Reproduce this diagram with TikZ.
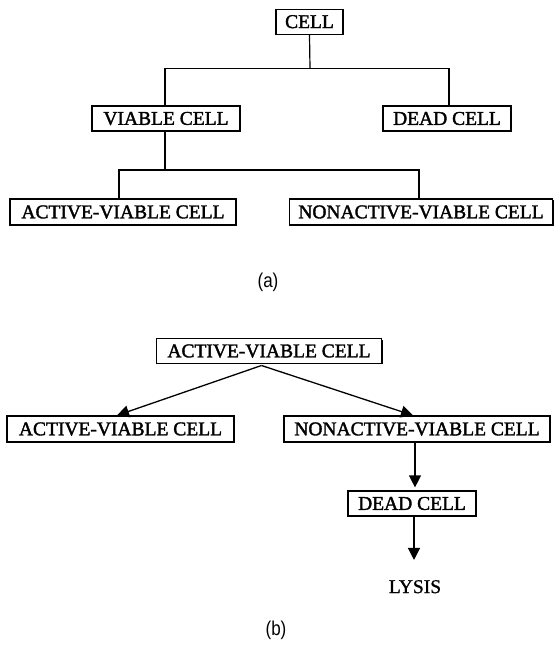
\documentclass[tikz,border=0pt]{standalone}
\usepackage{fontspec}
\setmainfont{Liberation Serif}
\newfontfamily\boxfont[FakeBold=1.8]{Liberation Serif}
\newfontfamily\plainfont[FakeBold=1.0]{Liberation Serif}
\newfontfamily\labfont[FakeStretch=0.85]{Liberation Sans}
\usetikzlibrary{arrows.meta,shadows}
\tikzset{
  cellbox/.style={draw, fill=white, line width=1.2pt, inner sep=0pt,
    minimum height=25pt, font=\boxfont\fontsize{19.5}{20}\selectfont,
    general shadow={fill=black, shadow xshift=1pt, shadow yshift=-1pt}},
  link/.style={line width=1.2pt},
  arr/.style={line width=1.3pt, -{Triangle[width=12pt,length=12pt]}},
  caption/.style={font=\labfont\fontsize{20}{22}\selectfont, inner sep=0pt},
  plain/.style={font=\plainfont\fontsize{19.5}{20}\selectfont, inner sep=0pt}
}
\begin{document}
\begin{tikzpicture}[x=1pt,y=-1pt]
\useasboundingbox (0,0) rectangle (554,646);
% ---------- (a)
\node[cellbox, minimum width=67pt] (cell) at (309.5,21.7) {CELL};
\node[cellbox, minimum width=148pt] (viable) at (166,118.5) {VIABLE CELL};
\node[cellbox, minimum width=128pt] (dead) at (447,118.5) {DEAD CELL};
\node[cellbox, minimum width=226pt, minimum height=26pt] (active) at (123,212) {ACTIVE-VIABLE CELL};
\node[cellbox, minimum width=263pt, minimum height=26pt] (nonactive) at (421,212) {NONACTIVE-VIABLE CELL};
\node[caption] (capa) at (268,282) {(a)};
\coordinate (j1) at (310,68.3);
\coordinate (j2) at (165,170);
\draw[link] (cell.south) -- (j1);
\draw[link] ([xshift=-1pt]viable.north) |- (j1) -| ([xshift=2pt]dead.north);
\draw[link] ([xshift=-1pt]viable.south) -- (j2);
\draw[link] ([xshift=-4pt]active.north) |- (j2) -| ([xshift=-2pt]nonactive.north);
% ---------- (b)
\node[cellbox, minimum width=225pt, minimum height=24.5pt] (top) at (269,351) {ACTIVE-VIABLE CELL};
\node[cellbox, minimum width=227pt, minimum height=26pt] (left) at (120.5,429) {ACTIVE-VIABLE CELL};
\node[cellbox, minimum width=266pt, minimum height=26pt] (right) at (417,429) {NONACTIVE-VIABLE CELL};
\node[cellbox, minimum width=128pt] (dead2) at (412,503.5) {DEAD CELL};
\node[plain] (lysis) at (415,586.7) {LYSIS};
\node[caption] (capb) at (276,630) {(b)};
\coordinate (apex) at (261.5,365.5);
\draw[arr] (apex) -- ([xshift=-3.5pt]left.north);
\draw[arr] (apex) -- ([xshift=-4pt]right.north);
\draw[arr] ([xshift=-2pt]right.south) -- ([xshift=3pt,yshift=3pt]dead2.north);
\draw[arr] ([xshift=2pt]dead2.south) -- ([xshift=-1pt,yshift=20pt]lysis.north);
\end{tikzpicture}
\end{document}
